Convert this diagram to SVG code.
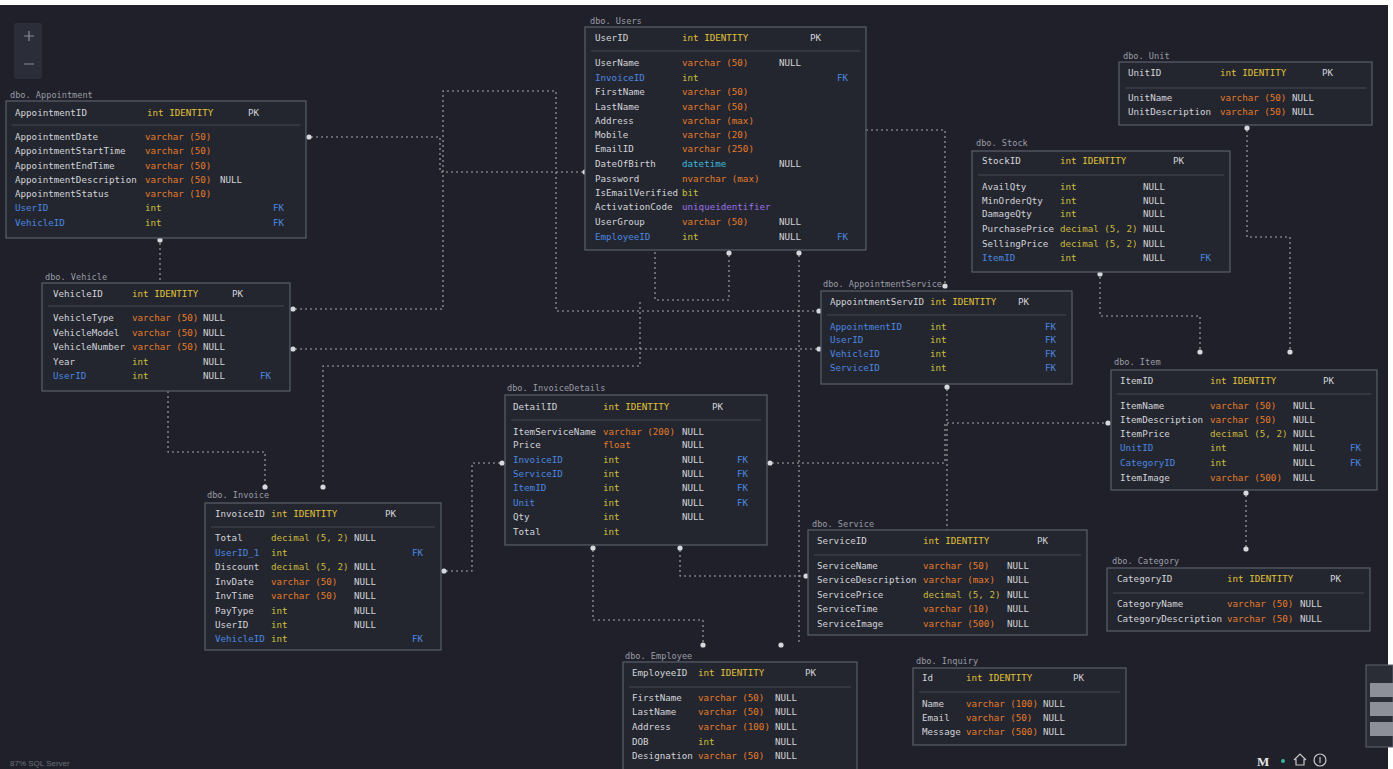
<svg xmlns="http://www.w3.org/2000/svg" width="1393" height="769" viewBox="0 0 1393 769">
<style>
.bg{fill:#1f2029}
.tb{fill:#24262f;stroke:#5b5f6b;stroke-width:1.2}
.sep{stroke:#454855;stroke-width:1}
text{font-family:"DejaVu Sans Mono","Liberation Mono",monospace;font-size:9.2px}
.ti{fill:#9a9ca6;font-size:8.6px}
.n{fill:#d2d4da}
.fk{fill:#4a86e0}
.i{fill:#cdc23e}
.id{fill:#e0c23a}
.v{fill:#e57c2a}
.d{fill:#cbb83c}
.dt{fill:#3ab8dc}
.u{fill:#9a72ea}
.w{fill:#d2d4da}
.cn path{fill:none;stroke:#c9cbd2;stroke-width:1.1;stroke-dasharray:2 3;opacity:.8}
.cn circle{fill:#d6d8de}
.ui{font-family:"Liberation Sans",sans-serif;fill:#6d707a;font-size:8px}
</style>
<rect width="1393" height="769" fill="#ffffff"/>
<rect class="bg" x="0" y="5" width="1388" height="764"/>

<g id="connectors" class="cn">
<path d="M160 238 V283"/><circle cx="160" cy="240" r="2.6"/>
<path d="M306 137 H440 V172 H585"/><circle cx="309" cy="137" r="2.6"/><circle cx="585" cy="172" r="2.6"/>
<path d="M290 309 H443 V91 H556 V311 H821"/><circle cx="293" cy="309" r="2.6"/><circle cx="819" cy="311" r="2.6"/>
<path d="M290 349 H821"/><circle cx="293" cy="349" r="2.6"/><circle cx="819" cy="349" r="2.6"/>
<path d="M866 130 H945 V291"/><circle cx="945" cy="286" r="2.6"/>
<path d="M947 384 V530"/><circle cx="947" cy="387" r="2.6"/>
<path d="M799 250 V645"/><circle cx="799" cy="253" r="2.6"/><circle cx="781" cy="645" r="2.6"/>
<path d="M729 250 V300 H655 V252"/><circle cx="729" cy="253" r="2.6"/>
<path d="M593 545 V620 H703 V645"/><circle cx="593" cy="548" r="2.6"/><circle cx="703" cy="645" r="2.6"/>
<path d="M680 545 V576 H808"/><circle cx="680" cy="548" r="2.6"/><circle cx="806" cy="576" r="2.6"/>
<path d="M767 463 H945 V423 H1111"/><circle cx="770" cy="463" r="2.6"/><circle cx="1108" cy="423" r="2.6"/>
<path d="M505 463 H472 V571 H441"/><circle cx="502" cy="463" r="2.6"/><circle cx="444" cy="571" r="2.6"/>
<path d="M168 391 V452 H265 V487"/><circle cx="265" cy="487" r="2.6"/>
<path d="M323 487 V366 H640 V300"/><circle cx="323" cy="487" r="2.6"/>
<path d="M1247 125 V237 H1290 V352"/><circle cx="1247" cy="128" r="2.6"/><circle cx="1290" cy="352" r="2.6"/>
<path d="M1100 272 V316 H1200 V352"/><circle cx="1100" cy="274" r="2.6"/><circle cx="1200" cy="352" r="2.6"/>
<path d="M1246 490 V549"/><circle cx="1246" cy="493" r="2.6"/><circle cx="1246" cy="549" r="2.6"/>
</g>

<g id="appointment">
<text class="ti" x="10" y="98">dbo. Appointment</text>
<rect class="tb" x="6" y="101" width="300" height="137"/>
<text x="15" y="116" class="n">AppointmentID</text><text x="147" y="116" class="id">int IDENTITY</text><text x="248" y="116" class="w">PK</text>
<line class="sep" x1="12" y1="125" x2="300" y2="125"/>
<text x="15" y="140" class="n">AppointmentDate</text><text x="145" y="140" class="v">varchar (50)</text>
<text x="15" y="154" class="n">AppointmentStartTime</text><text x="145" y="154" class="v">varchar (50)</text>
<text x="15" y="169" class="n">AppointmentEndTime</text><text x="145" y="169" class="v">varchar (50)</text>
<text x="15" y="183" class="n">AppointmentDescription</text><text x="145" y="183" class="v">varchar (50)</text><text x="220" y="183" class="w">NULL</text>
<text x="15" y="197" class="n">AppointmentStatus</text><text x="145" y="197" class="v">varchar (10)</text>
<text x="15" y="211" class="fk">UserID</text><text x="145" y="211" class="i">int</text><text x="273" y="211" class="fk">FK</text>
<text x="15" y="226" class="fk">VehicleID</text><text x="145" y="226" class="i">int</text><text x="273" y="226" class="fk">FK</text>
</g>

<g id="users">
<text class="ti" x="590" y="24">dbo. Users</text>
<rect class="tb" x="585" y="27" width="281" height="223"/>
<text x="595" y="41" class="n">UserID</text><text x="682" y="41" class="id">int IDENTITY</text><text x="810" y="41" class="w">PK</text>
<line class="sep" x1="591" y1="51" x2="860" y2="51"/>
<text x="595" y="66" class="n">UserName</text><text x="682" y="66" class="v">varchar (50)</text><text x="779" y="66" class="w">NULL</text>
<text x="595" y="81" class="fk">InvoiceID</text><text x="682" y="81" class="i">int</text><text x="837" y="81" class="fk">FK</text>
<text x="595" y="95" class="n">FirstName</text><text x="682" y="95" class="v">varchar (50)</text>
<text x="595" y="110" class="n">LastName</text><text x="682" y="110" class="v">varchar (50)</text>
<text x="595" y="124" class="n">Address</text><text x="682" y="124" class="v">varchar (max)</text>
<text x="595" y="138" class="n">Mobile</text><text x="682" y="138" class="v">varchar (20)</text>
<text x="595" y="152" class="n">EmailID</text><text x="682" y="152" class="v">varchar (250)</text>
<text x="595" y="167" class="n">DateOfBirth</text><text x="682" y="167" class="dt">datetime</text><text x="779" y="167" class="w">NULL</text>
<text x="595" y="182" class="n">Password</text><text x="682" y="182" class="v">nvarchar (max)</text>
<text x="595" y="196" class="n">IsEmailVerified</text><text x="682" y="196" class="i">bit</text>
<text x="595" y="210" class="n">ActivationCode</text><text x="682" y="210" class="u">uniqueidentifier</text>
<text x="595" y="225" class="n">UserGroup</text><text x="682" y="225" class="v">varchar (50)</text><text x="779" y="225" class="w">NULL</text>
<text x="595" y="240" class="fk">EmployeeID</text><text x="682" y="240" class="i">int</text><text x="779" y="240" class="w">NULL</text><text x="837" y="240" class="fk">FK</text>
</g>

<g id="unit">
<text class="ti" x="1123" y="59">dbo. Unit</text>
<rect class="tb" x="1119" y="62" width="253" height="63"/>
<text x="1128" y="76" class="n">UnitID</text><text x="1220" y="76" class="id">int IDENTITY</text><text x="1322" y="76" class="w">PK</text>
<line class="sep" x1="1125" y1="88" x2="1366" y2="88"/>
<text x="1128" y="101" class="n">UnitName</text><text x="1220" y="101" class="v">varchar (50)</text><text x="1292" y="101" class="w">NULL</text>
<text x="1128" y="115" class="n">UnitDescription</text><text x="1220" y="115" class="v">varchar (50)</text><text x="1292" y="115" class="w">NULL</text>
</g>

<g id="stock">
<text class="ti" x="976" y="146">dbo. Stock</text>
<rect class="tb" x="972" y="151" width="258" height="121"/>
<text x="982" y="164" class="n">StockID</text><text x="1060" y="164" class="id">int IDENTITY</text><text x="1173" y="164" class="w">PK</text>
<line class="sep" x1="978" y1="175" x2="1224" y2="175"/>
<text x="982" y="190" class="n">AvailQty</text><text x="1060" y="190" class="i">int</text><text x="1143" y="190" class="w">NULL</text>
<text x="982" y="204" class="n">MinOrderQty</text><text x="1060" y="204" class="i">int</text><text x="1143" y="204" class="w">NULL</text>
<text x="982" y="217" class="n">DamageQty</text><text x="1060" y="217" class="i">int</text><text x="1143" y="217" class="w">NULL</text>
<text x="982" y="232" class="n">PurchasePrice</text><text x="1060" y="232" class="d">decimal (5, 2)</text><text x="1143" y="232" class="w">NULL</text>
<text x="982" y="247" class="n">SellingPrice</text><text x="1060" y="247" class="d">decimal (5, 2)</text><text x="1143" y="247" class="w">NULL</text>
<text x="982" y="261" class="fk">ItemID</text><text x="1060" y="261" class="i">int</text><text x="1143" y="261" class="w">NULL</text><text x="1200" y="261" class="fk">FK</text>
</g>

<g id="vehicle">
<text class="ti" x="45" y="280">dbo. Vehicle</text>
<rect class="tb" x="42" y="283" width="248" height="108"/>
<text x="53" y="297" class="n">VehicleID</text><text x="132" y="297" class="id">int IDENTITY</text><text x="232" y="297" class="w">PK</text>
<line class="sep" x1="48" y1="306" x2="284" y2="306"/>
<text x="53" y="321" class="n">VehicleType</text><text x="132" y="321" class="v">varchar (50)</text><text x="203" y="321" class="w">NULL</text>
<text x="53" y="336" class="n">VehicleModel</text><text x="132" y="336" class="v">varchar (50)</text><text x="203" y="336" class="w">NULL</text>
<text x="53" y="350" class="n">VehicleNumber</text><text x="132" y="350" class="v">varchar (50)</text><text x="203" y="350" class="w">NULL</text>
<text x="53" y="365" class="n">Year</text><text x="132" y="365" class="i">int</text><text x="203" y="365" class="w">NULL</text>
<text x="53" y="379" class="fk">UserID</text><text x="132" y="379" class="i">int</text><text x="203" y="379" class="w">NULL</text><text x="260" y="379" class="fk">FK</text>
</g>

<g id="appointmentservice">
<text class="ti" x="823" y="287">dbo. AppointmentService</text>
<rect class="tb" x="821" y="291" width="251" height="93"/>
<text x="830" y="305" class="n">AppointmentServID</text><text x="930" y="305" class="id">int IDENTITY</text><text x="1018" y="305" class="w">PK</text>
<line class="sep" x1="827" y1="315" x2="1066" y2="315"/>
<text x="830" y="330" class="fk">AppointmentID</text><text x="930" y="330" class="i">int</text><text x="1045" y="330" class="fk">FK</text>
<text x="830" y="343" class="fk">UserID</text><text x="930" y="343" class="i">int</text><text x="1045" y="343" class="fk">FK</text>
<text x="830" y="357" class="fk">VehicleID</text><text x="930" y="357" class="i">int</text><text x="1045" y="357" class="fk">FK</text>
<text x="830" y="371" class="fk">ServiceID</text><text x="930" y="371" class="i">int</text><text x="1045" y="371" class="fk">FK</text>
</g>

<g id="invoicedetails">
<text class="ti" x="507" y="391">dbo. InvoiceDetails</text>
<rect class="tb" x="505" y="395" width="262" height="150"/>
<text x="513" y="410" class="n">DetailID</text><text x="603" y="410" class="id">int IDENTITY</text><text x="712" y="410" class="w">PK</text>
<line class="sep" x1="511" y1="420" x2="761" y2="420"/>
<text x="513" y="435" class="n">ItemServiceName</text><text x="603" y="435" class="v">varchar (200)</text><text x="682" y="435" class="w">NULL</text>
<text x="513" y="448" class="n">Price</text><text x="603" y="448" class="v">float</text><text x="682" y="448" class="w">NULL</text>
<text x="513" y="463" class="fk">InvoiceID</text><text x="603" y="463" class="i">int</text><text x="682" y="463" class="w">NULL</text><text x="737" y="463" class="fk">FK</text>
<text x="513" y="477" class="fk">ServiceID</text><text x="603" y="477" class="i">int</text><text x="682" y="477" class="w">NULL</text><text x="737" y="477" class="fk">FK</text>
<text x="513" y="491" class="fk">ItemID</text><text x="603" y="491" class="i">int</text><text x="682" y="491" class="w">NULL</text><text x="737" y="491" class="fk">FK</text>
<text x="513" y="506" class="fk">Unit</text><text x="603" y="506" class="i">int</text><text x="682" y="506" class="w">NULL</text><text x="737" y="506" class="fk">FK</text>
<text x="513" y="520" class="n">Qty</text><text x="603" y="520" class="i">int</text><text x="682" y="520" class="w">NULL</text>
<text x="513" y="535" class="n">Total</text><text x="603" y="535" class="i">int</text>
</g>

<g id="item">
<text class="ti" x="1114" y="365">dbo. Item</text>
<rect class="tb" x="1111" y="370" width="266" height="120"/>
<text x="1120" y="384" class="n">ItemID</text><text x="1210" y="384" class="id">int IDENTITY</text><text x="1323" y="384" class="w">PK</text>
<line class="sep" x1="1117" y1="394" x2="1371" y2="394"/>
<text x="1120" y="409" class="n">ItemName</text><text x="1210" y="409" class="v">varchar (50)</text><text x="1293" y="409" class="w">NULL</text>
<text x="1120" y="423" class="n">ItemDescription</text><text x="1210" y="423" class="v">varchar (50)</text><text x="1293" y="423" class="w">NULL</text>
<text x="1120" y="437" class="n">ItemPrice</text><text x="1210" y="437" class="d">decimal (5, 2)</text><text x="1293" y="437" class="w">NULL</text>
<text x="1120" y="451" class="fk">UnitID</text><text x="1210" y="451" class="i">int</text><text x="1293" y="451" class="w">NULL</text><text x="1350" y="451" class="fk">FK</text>
<text x="1120" y="466" class="fk">CategoryID</text><text x="1210" y="466" class="i">int</text><text x="1293" y="466" class="w">NULL</text><text x="1350" y="466" class="fk">FK</text>
<text x="1120" y="481" class="n">ItemImage</text><text x="1210" y="481" class="v">varchar (500)</text><text x="1293" y="481" class="w">NULL</text>
</g>

<g id="invoice">
<text class="ti" x="207" y="498">dbo. Invoice</text>
<rect class="tb" x="205" y="503" width="236" height="147"/>
<text x="215" y="517" class="n">InvoiceID</text><text x="271" y="517" class="id">int IDENTITY</text><text x="385" y="517" class="w">PK</text>
<line class="sep" x1="211" y1="527" x2="435" y2="527"/>
<text x="215" y="541" class="n">Total</text><text x="271" y="541" class="d">decimal (5, 2)</text><text x="354" y="541" class="w">NULL</text>
<text x="215" y="556" class="fk">UserID_1</text><text x="271" y="556" class="i">int</text><text x="412" y="556" class="fk">FK</text>
<text x="215" y="570" class="n">Discount</text><text x="271" y="570" class="d">decimal (5, 2)</text><text x="354" y="570" class="w">NULL</text>
<text x="215" y="585" class="n">InvDate</text><text x="271" y="585" class="v">varchar (50)</text><text x="354" y="585" class="w">NULL</text>
<text x="215" y="599" class="n">InvTime</text><text x="271" y="599" class="v">varchar (50)</text><text x="354" y="599" class="w">NULL</text>
<text x="215" y="614" class="n">PayType</text><text x="271" y="614" class="i">int</text><text x="354" y="614" class="w">NULL</text>
<text x="215" y="628" class="n">UserID</text><text x="271" y="628" class="i">int</text><text x="354" y="628" class="w">NULL</text>
<text x="215" y="642" class="fk">VehicleID</text><text x="271" y="642" class="i">int</text><text x="412" y="642" class="fk">FK</text>
</g>

<g id="service">
<text class="ti" x="812" y="527">dbo. Service</text>
<rect class="tb" x="808" y="530" width="279" height="105"/>
<text x="817" y="544" class="n">ServiceID</text><text x="923" y="544" class="id">int IDENTITY</text><text x="1037" y="544" class="w">PK</text>
<line class="sep" x1="814" y1="555" x2="1081" y2="555"/>
<text x="817" y="569" class="n">ServiceName</text><text x="923" y="569" class="v">varchar (50)</text><text x="1007" y="569" class="w">NULL</text>
<text x="817" y="583" class="n">ServiceDescription</text><text x="923" y="583" class="v">varchar (max)</text><text x="1007" y="583" class="w">NULL</text>
<text x="817" y="598" class="n">ServicePrice</text><text x="923" y="598" class="d">decimal (5, 2)</text><text x="1007" y="598" class="w">NULL</text>
<text x="817" y="612" class="n">ServiceTime</text><text x="923" y="612" class="v">varchar (10)</text><text x="1007" y="612" class="w">NULL</text>
<text x="817" y="627" class="n">ServiceImage</text><text x="923" y="627" class="v">varchar (500)</text><text x="1007" y="627" class="w">NULL</text>
</g>

<g id="category">
<text class="ti" x="1112" y="564">dbo. Category</text>
<rect class="tb" x="1107" y="568" width="263" height="63"/>
<text x="1117" y="582" class="n">CategoryID</text><text x="1227" y="582" class="id">int IDENTITY</text><text x="1330" y="582" class="w">PK</text>
<line class="sep" x1="1113" y1="593" x2="1364" y2="593"/>
<text x="1117" y="607" class="n">CategoryName</text><text x="1227" y="607" class="v">varchar (50)</text><text x="1300" y="607" class="w">NULL</text>
<text x="1117" y="622" class="n">CategoryDescription</text><text x="1227" y="622" class="v">varchar (50)</text><text x="1300" y="622" class="w">NULL</text>
</g>

<g id="employee">
<text class="ti" x="625" y="659">dbo. Employee</text>
<rect class="tb" x="623" y="662" width="234" height="112"/>
<text x="632" y="676" class="n">EmployeeID</text><text x="698" y="676" class="id">int IDENTITY</text><text x="805" y="676" class="w">PK</text>
<line class="sep" x1="629" y1="687" x2="851" y2="687"/>
<text x="632" y="701" class="n">FirstName</text><text x="698" y="701" class="v">varchar (50)</text><text x="775" y="701" class="w">NULL</text>
<text x="632" y="715" class="n">LastName</text><text x="698" y="715" class="v">varchar (50)</text><text x="775" y="715" class="w">NULL</text>
<text x="632" y="730" class="n">Address</text><text x="698" y="730" class="v">varchar (100)</text><text x="775" y="730" class="w">NULL</text>
<text x="632" y="745" class="n">DOB</text><text x="698" y="745" class="i">int</text><text x="775" y="745" class="w">NULL</text>
<text x="632" y="759" class="n">Designation</text><text x="698" y="759" class="v">varchar (50)</text><text x="775" y="759" class="w">NULL</text>
</g>

<g id="inquiry">
<text class="ti" x="916" y="664">dbo. Inquiry</text>
<rect class="tb" x="913" y="668" width="213" height="77"/>
<text x="922" y="681" class="n">Id</text><text x="966" y="681" class="id">int IDENTITY</text><text x="1073" y="681" class="w">PK</text>
<line class="sep" x1="919" y1="692" x2="1120" y2="692"/>
<text x="922" y="707" class="n">Name</text><text x="966" y="707" class="v">varchar (100)</text><text x="1043" y="707" class="w">NULL</text>
<text x="922" y="721" class="n">Email</text><text x="966" y="721" class="v">varchar (50)</text><text x="1043" y="721" class="w">NULL</text>
<text x="922" y="735" class="n">Message</text><text x="966" y="735" class="v">varchar (500)</text><text x="1043" y="735" class="w">NULL</text>
</g>

<g id="ui">
<rect x="14" y="23" width="28" height="56" rx="2" fill="#2b2d38"/>
<path d="M24 36 H34 M29 31 V41 M24 64 H34" stroke="#8a8d97" stroke-width="1.2"/>
<text class="ui" x="10" y="766">87%   SQL Server</text>
<text x="1257" y="766" style="font-family:'Liberation Serif',serif;font-size:13px;font-weight:bold;fill:#e6e6e6">M</text>
<circle cx="1283" cy="761" r="2" fill="#35b5a0"/>
<path d="M1294 760 L1300 754 L1306 760 M1296 759 V765 H1304 V759" fill="none" stroke="#c8c8c8" stroke-width="1.2"/>
<circle cx="1320" cy="760" r="6" fill="none" stroke="#c8c8c8" stroke-width="1.2"/>
<path d="M1320 757 V763" stroke="#c8c8c8" stroke-width="1.2"/>
<rect x="1366" y="665" width="27" height="82" fill="#2a2c36" stroke="#60636e"/>
<rect x="1370" y="683" width="23" height="14" fill="#8d9098"/>
<rect x="1370" y="702" width="23" height="14" fill="#8d9098"/>
<rect x="1370" y="722" width="23" height="14" fill="#8d9098"/>
</g>
</svg>
